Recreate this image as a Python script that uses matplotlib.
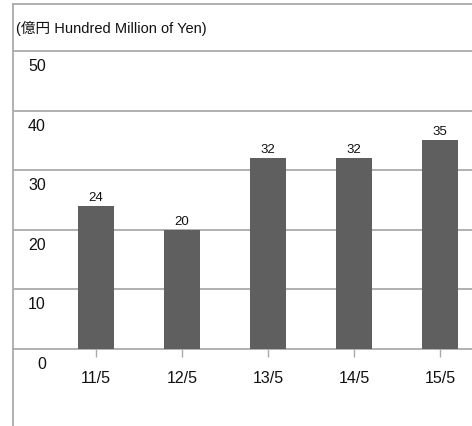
import matplotlib
matplotlib.use("Agg")
import matplotlib.pyplot as plt
from matplotlib.transforms import offset_copy

categories = ["11/5", "12/5", "13/5", "14/5", "15/5"]
values = [24, 20, 32, 32, 35]
yticks = [0, 10, 20, 30, 40, 50]
unit_label = "(億円 Hundred Million of Yen)"

W, H = 472, 427
fig = plt.figure(figsize=(W / 100, H / 100), dpi=100)
ax = fig.add_axes([13 / W, 0, 1 - 13 / W, (H - 5) / H])

grid_c = "#aaaaaa"
bar_c = "#5f5f5f"
base_font = ["Liberation Sans", "Noto Sans CJK JP", "DejaVu Sans"]
narrow_font = ["Liberation Sans Narrow", "Liberation Sans", "DejaVu Sans"]

x = list(range(len(categories)))
ax.bar(x, values, width=0.42, color=bar_c, zorder=3)

# scales: 0 at y=350px, 50 at y=52px
ppu = (350 - 52) / 50.0
ax.set_ylim(-(H - 350) / ppu, (350 - 5) / ppu)
ax.set_xlim((13 - 96) / 86.0, (W - 96) / 86.0)

for t in yticks[1:]:
    ax.axhline(t, color=grid_c, lw=1.3, zorder=1)

ax.spines["right"].set_visible(False)
for s in ["top", "left"]:
    ax.spines[s].set_color(grid_c)
    ax.spines[s].set_linewidth(1.3)
ax.spines["bottom"].set_position(("data", 0))
ax.spines["bottom"].set_color(grid_c)
ax.spines["bottom"].set_linewidth(1.3)

ax.set_xticks(x)
ax.set_xticklabels(categories, fontfamily=base_font, fontsize=11.5, color="#111111")
ax.tick_params(axis="x", length=6, width=1, color=grid_c, pad=9)
ax.set_yticks([])

# y labels below their gridlines
trans_y = offset_copy(ax.transData, fig=fig, x=0, y=-7, units="dots")
for t in yticks:
    ax.text((46 - 96) / 86.0, t, str(t), transform=trans_y, ha="right", va="top",
            fontsize=11.5, fontfamily=base_font, color="#111111")

# bar value labels
trans_v = offset_copy(ax.transData, fig=fig, x=0, y=3, units="dots")
for xi, v in zip(x, values):
    ax.text(xi, v, str(v), transform=trans_v, ha="center", va="bottom",
            fontsize=9.5, fontfamily=narrow_font, color="#111111")

# unit header
fig.text(16 / W, 1 - 28 / H, unit_label, ha="left", va="center",
         fontsize=10.5, fontfamily=base_font, color="#111111")

fig.savefig("out.png", dpi=100)
